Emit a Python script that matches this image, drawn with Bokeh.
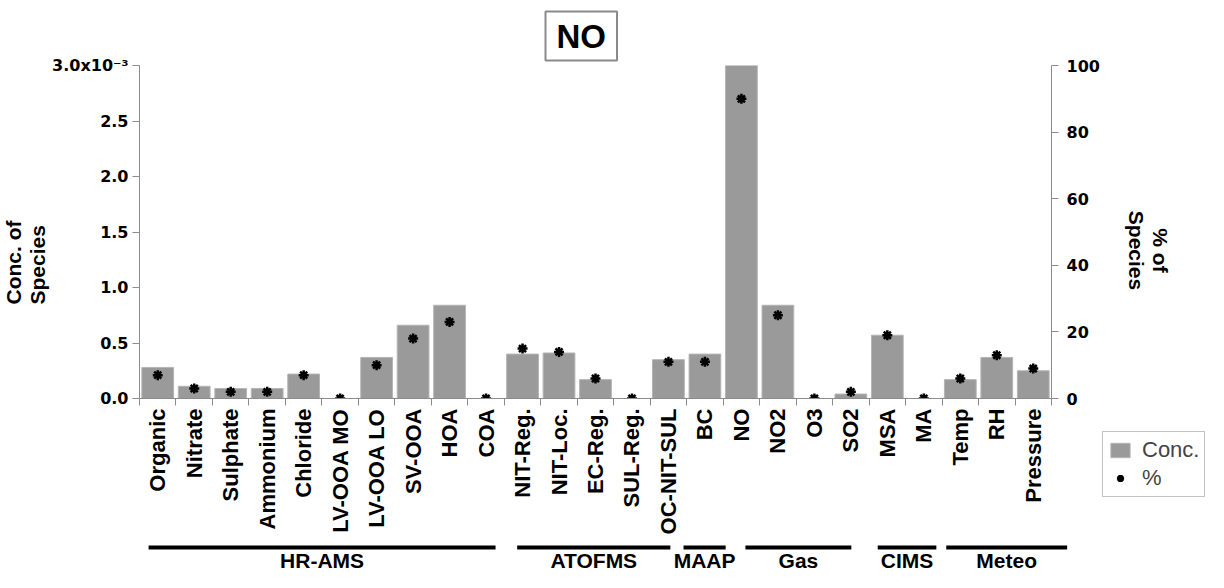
import math
from bokeh.plotting import figure
from bokeh.layouts import column, row
from bokeh.models import (Range1d, LinearAxis, FixedTicker, Title, Legend,
                          LegendItem, PrintfTickFormatter)
from bokeh.embed import file_html
from bokeh.resources import INLINE

# ---------------- data ----------------
categories = ["Organic", "Nitrate", "Sulphate", "Ammonium", "Chloride", "LV-OOA MO",
              "LV-OOA LO", "SV-OOA", "HOA", "COA",
              "NIT-Reg.", "NIT-Loc.", "EC-Reg.", "SUL-Reg.", "OC-NIT-SUL",
              "BC",
              "NO", "NO2", "O3", "SO2",
              "MSA", "MA",
              "Temp", "RH", "Pressure"]
# concentration of species, in units of 1e-3
conc_e3 = [0.28, 0.11, 0.09, 0.09, 0.22, 0.0, 0.37, 0.66, 0.84, 0.0,
           0.40, 0.41, 0.17, 0.0, 0.35,
           0.40,
           3.00, 0.84, 0.0, 0.04,
           0.57, 0.0,
           0.17, 0.37, 0.25]
# percent of species
pct = [7, 3, 2, 2, 7, 0, 10, 18, 23, 0,
       15, 14, 6, 0, 11,
       11,
       90, 25, 0, 2,
       19, 0,
       6, 13, 9]
groups = ["HR-AMS", "ATOFMS", "MAAP", "Gas", "CIMS", "Meteo"]
group_sizes = [10, 5, 1, 4, 2, 3]
left_ticks = [0.0, 0.5, 1.0, 1.5, 2.0, 2.5, 3.0]
right_ticks = [0, 20, 40, 60, 80, 100]

# ---------------- layout / style ----------------
BAR_FILL = "#9a9a9a"
AXIS_COL = "#8c8c8c"
LAB_FONT = "Liberation Sans"
NUM_FONT = "DejaVu Sans"
# group underline padding relative to the category span (start pad, end pad)
group_pads = [(0.33, -0.20), (0.39, -0.43), (-0.07, 0.08), (0.62, -0.49), (0.23, -0.17), (0.10, 0.40)]

W_TOTAL, H_TOTAL = 1208, 572
LEFT, RIGHT, TOP, BOTTOM = 136, 50, 65, 138
FRAME_W, FRAME_H = 916, 334
A_W = LEFT + FRAME_W + RIGHT          # main chart width
A_H = TOP + FRAME_H + BOTTOM          # main chart height
C_W = W_TOTAL - A_W                    # right-side strip (axis title + legend)
B_H = H_TOTAL - A_H                    # bottom strip (instrument groups)

n = len(categories)
xc = [i + 0.5 for i in range(n)]

# ---------------- main chart ----------------
A = figure(width=A_W, height=A_H, x_range=Range1d(0, n), y_range=Range1d(0, 3.0),
           output_backend="svg", toolbar_location=None,
           x_axis_type=None, y_axis_type=None,
           min_border_left=LEFT, min_border_right=RIGHT, min_border_top=TOP,
           min_border_bottom=BOTTOM)
A.extra_y_ranges = {"pct": Range1d(0, 100)}
A.outline_line_color = None
A.background_fill_color = "white"
A.border_fill_color = "white"

bars = A.vbar(x=xc, top=conc_e3, bottom=0, width=0.87, fill_color=BAR_FILL,
              line_color="#b4b4b4", line_width=1)
stars = A.scatter(x=xc, y=pct, y_range_name="pct", marker="asterisk", size=10,
                  line_width=2.5, line_color="black")

xaxis = LinearAxis(ticker=FixedTicker(ticks=xc, minor_ticks=list(range(n + 1))),
                   major_label_overrides={x: c for x, c in zip(xc, categories)},
                   major_label_orientation=math.pi / 2)
xaxis.major_tick_line_color = None
xaxis.minor_tick_line_color = AXIS_COL
xaxis.minor_tick_out = 7
xaxis.minor_tick_in = 0
xaxis.axis_line_color = AXIS_COL
xaxis.major_label_text_font = LAB_FONT
xaxis.major_label_text_font_style = "bold"
xaxis.major_label_text_font_size = "22px"
xaxis.major_label_text_color = "black"
xaxis.major_label_standoff = 3
A.add_layout(xaxis, "below")

yaxis = LinearAxis(ticker=FixedTicker(ticks=left_ticks), formatter=PrintfTickFormatter(format="%.1f"),
                   major_label_overrides={3.0: "3.0x10\u207b\u00b3"})
yaxis.axis_line_color = AXIS_COL
yaxis.major_tick_line_color = AXIS_COL
yaxis.major_tick_out = 7
yaxis.major_tick_in = 0
yaxis.minor_tick_line_color = None
yaxis.major_label_text_font = NUM_FONT
yaxis.major_label_text_font_style = "bold"
yaxis.major_label_text_font_size = "16px"
yaxis.major_label_text_color = "black"
yaxis.major_label_standoff = 4
A.add_layout(yaxis, "left")

raxis = LinearAxis(y_range_name="pct", ticker=FixedTicker(ticks=right_ticks))
raxis.axis_line_color = AXIS_COL
raxis.major_tick_line_color = AXIS_COL
raxis.major_tick_out = 7
raxis.major_tick_in = 0
raxis.minor_tick_line_color = None
raxis.major_label_text_font = NUM_FONT
raxis.major_label_text_font_style = "bold"
raxis.major_label_text_font_size = "16px"
raxis.major_label_text_color = "black"
raxis.major_label_standoff = 8
A.add_layout(raxis, "right")

A.add_layout(Title(text="Conc. of\nSpecies", align="left", offset=94, standoff=0,
                   text_font=LAB_FONT, text_font_style="bold", text_font_size="21px",
                   text_color="black", text_line_height=1.05), "left")

A.title.text = "NO"
A.title.align = "left"
A.title.offset = 406
A.title.standoff = 10
A.title.text_font = LAB_FONT
A.title.text_font_style = "bold"
A.title.text_font_size = "33px"
A.title.text_color = "black"
A.title.border_line_color = "#8a8a8a"
A.title.border_line_width = 2
A.title.background_fill_color = "white"
A.title.padding = dict(left=11, right=11, top=6, bottom=6)

# ---------------- bottom strip: instrument groups (same x scale as main) ----------------
B = figure(width=A_W, height=B_H, x_range=Range1d(0, n * (A_W - LEFT) / FRAME_W),
           y_range=Range1d(0, B_H), output_backend="svg", toolbar_location=None,
           x_axis_type=None, y_axis_type=None, min_border_left=LEFT, min_border_right=0,
           min_border_top=0, min_border_bottom=0)
B.outline_line_color = None
gx0, gx1, gxm = [], [], []
start = 0
for size, (pa, pb) in zip(group_sizes, group_pads):
    gx0.append(start + pa)
    gx1.append(start + size + pb)
    gxm.append((gx0[-1] + gx1[-1]) / 2)
    start += size
B.segment(x0=gx0, x1=gx1, y0=[H_TOTAL - 547] * len(groups), y1=[H_TOTAL - 547] * len(groups),
          line_width=4, line_color="black", line_cap="butt")
B.text(x=gxm, y=[H_TOTAL - 560] * len(groups), text=groups, text_align="center",
       text_baseline="middle", text_font={"value": LAB_FONT}, text_font_style="bold",
       text_font_size="21px")

# ---------------- right strip: axis title + legend (full height, y up from page bottom) ----------------
C = figure(width=C_W, height=H_TOTAL, x_range=Range1d(0, C_W), y_range=Range1d(0, H_TOTAL),
           output_backend="svg", toolbar_location=None, x_axis_type=None, y_axis_type=None,
           min_border=0)
C.outline_line_color = None
C.text(x=[1148 - A_W], y=[H_TOTAL - 250], text=["% of\nSpecies"], angle=-math.pi / 2,
       text_align="center", text_baseline="middle", text_font={"value": LAB_FONT},
       text_font_style="bold", text_font_size="21px", text_line_height=1.05)
# legend swatches (kept outside the visible ranges)
leg_bar = C.vbar(x=[-100], top=[-100], bottom=[-101], width=1, fill_color=BAR_FILL, line_color="#b4b4b4")
leg_star = C.scatter(x=[-100], y=[-100], marker="asterisk", size=13, line_width=2.5, line_color="black")
legend = Legend(items=[LegendItem(label="Conc.", renderers=[leg_bar]),
                       LegendItem(label="%", renderers=[leg_star])],
                location=(0, H_TOTAL - 497))
legend.label_text_font = LAB_FONT
legend.label_text_font_size = "22px"
legend.border_line_color = "#888888"
legend.border_line_width = 1.5
legend.glyph_width = 24
legend.glyph_height = 18
legend.label_standoff = 10
legend.label_height = 20
legend.padding = 5
legend.spacing = 2
legend.margin = 0
C.add_layout(legend)

layout = row(column(A, row(B)), C)
open("out.html", "w").write(file_html(layout, INLINE))
